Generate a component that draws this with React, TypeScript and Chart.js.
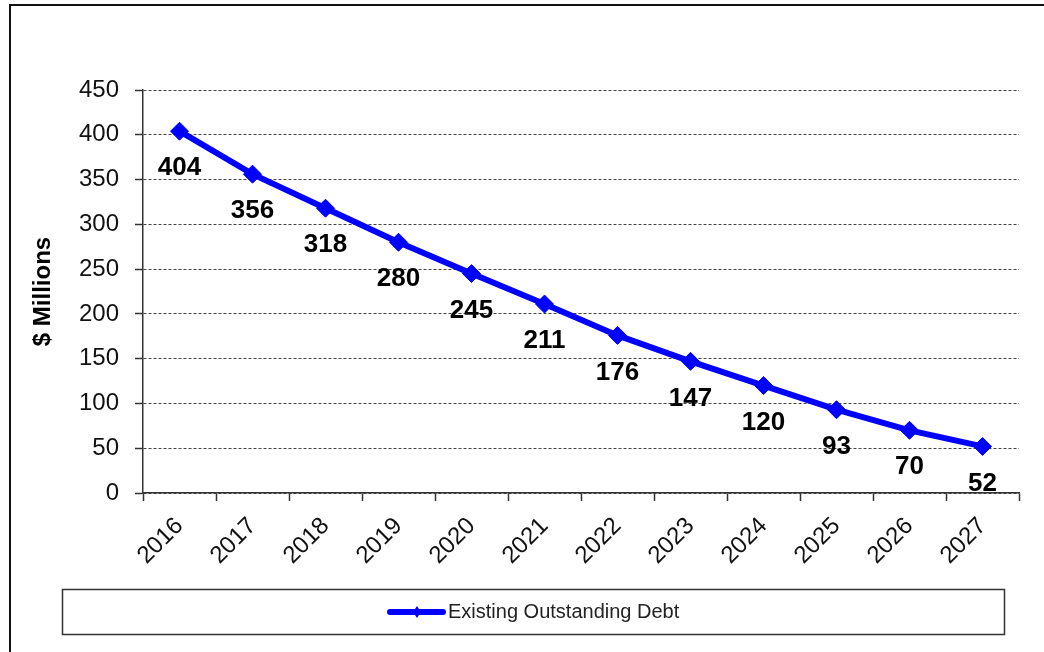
import React, { useEffect, useRef } from "react";
import { Chart, registerables } from "chart.js";

Chart.register(...registerables);

const categories = ["2016", "2017", "2018", "2019", "2020", "2021", "2022", "2023", "2024", "2025", "2026", "2027"];
const debtValues = [404, 356, 318, 280, 245, 211, 176, 147, 120, 93, 70, 52];
const seriesLabel = "Existing Outstanding Debt";
const yTitle = "$ Millions";

const FONT = "Arial, 'Liberation Sans', sans-serif";
const BLUE = "#0000FF";

const decorPlugin = {
  id: "decor",
  afterDatasetsDraw(chart: any) {
    const ctx = chart.ctx;
    const meta = chart.getDatasetMeta(0);
    ctx.save();
    ctx.font = `bold 26px ${FONT}`;
    ctx.fillStyle = "#000";
    ctx.textAlign = "center";
    ctx.textBaseline = "middle";
    meta.data.forEach((pt: any, i: number) => {
      ctx.fillText(String(debtValues[i]), pt.x, pt.y + 37);
    });
    ctx.restore();
  },
  afterDraw(chart: any) {
    const ctx = chart.ctx;
    ctx.save();
    // outer frame (top & left edges visible)
    ctx.strokeStyle = "#111";
    ctx.lineWidth = 2;
    ctx.beginPath();
    ctx.moveTo(10, 700);
    ctx.lineTo(10, 5);
    ctx.lineTo(1100, 5);
    ctx.stroke();
    // legend box
    ctx.strokeStyle = "#333";
    ctx.lineWidth = 1.5;
    ctx.strokeRect(62.5, 589.5, 942, 45);
    // legend line sample
    ctx.strokeStyle = BLUE;
    ctx.lineWidth = 6;
    ctx.lineCap = "round";
    ctx.beginPath();
    ctx.moveTo(390, 612);
    ctx.lineTo(443, 612);
    ctx.stroke();
    ctx.fillStyle = BLUE;
    ctx.beginPath();
    ctx.moveTo(417, 606);
    ctx.lineTo(421, 612);
    ctx.lineTo(417, 618);
    ctx.lineTo(413, 612);
    ctx.closePath();
    ctx.fill();
    ctx.fillStyle = "#222";
    ctx.font = `20px ${FONT}`;
    ctx.textAlign = "left";
    ctx.textBaseline = "middle";
    ctx.fillText(chart.data.datasets[0].label, 448, 612);
    ctx.restore();
  },
};

export default function App() {
  const canvasRef = useRef<HTMLCanvasElement | null>(null);

  useEffect(() => {
    if (!canvasRef.current) return;
    const chart = new Chart(canvasRef.current, {
      type: "line",
      data: {
        labels: categories,
        datasets: [
          {
            label: seriesLabel,
            data: debtValues,
            borderColor: BLUE,
            backgroundColor: BLUE,
            borderWidth: 6,
            pointStyle: "rectRot",
            pointRadius: 9,
            pointBorderWidth: 1,
            pointBackgroundColor: BLUE,
            pointBorderColor: BLUE,
            tension: 0,
            fill: false,
          },
        ],
      },
      options: {
        responsive: false,
        animation: false,
        devicePixelRatio: 1,
        layout: { padding: { left: 10, top: 90, right: 25, bottom: 0 } },
        plugins: {
          legend: { display: false },
          tooltip: { enabled: false },
          title: { display: false },
        },
        scales: {
          x: {
            type: "category",
            offset: true,
            grid: {
              offset: true,
              drawOnChartArea: false,
              drawTicks: true,
              tickLength: 8,
              tickColor: "#333",
              tickWidth: 1.5,
            },
            border: { display: true, color: "#333", width: 1.5 },
            ticks: {
              color: "#111",
              font: { family: FONT, size: 24 },
              minRotation: 45,
              maxRotation: 45,
              padding: 11,
              autoSkip: false,
            },
            afterFit(scale: any) {
              scale.height = 159;
            },
          },
          y: {
            min: 0,
            max: 450,
            grid: {
              color: "#444",
              lineWidth: 1,
              tickBorderDash: [],
              tickColor: "#333",
              tickLength: 8,
              tickWidth: 1.5,
              drawTicks: true,
            },
            border: { display: true, color: "#333", width: 1.5, dash: [3, 2] },
            ticks: {
              stepSize: 50,
              color: "#111",
              font: { family: FONT, size: 24 },
              padding: 16,
            },
            title: {
              display: true,
              text: yTitle,
              color: "#000",
              font: { family: FONT, size: 24, weight: "bold" },
              padding: { top: 19, bottom: 0 },
            },
            afterFit(scale: any) {
              scale.width = 133;
            },
          },
        },
      },
      plugins: [decorPlugin],
    });
    return () => chart.destroy();
  }, []);

  return (
    <div style={{ position: "fixed", left: 0, top: 0, width: 1044, height: 652, background: "#fff" }}>
      <canvas ref={canvasRef} width={1044} height={652} style={{ display: "block" }} />
    </div>
  );
}
